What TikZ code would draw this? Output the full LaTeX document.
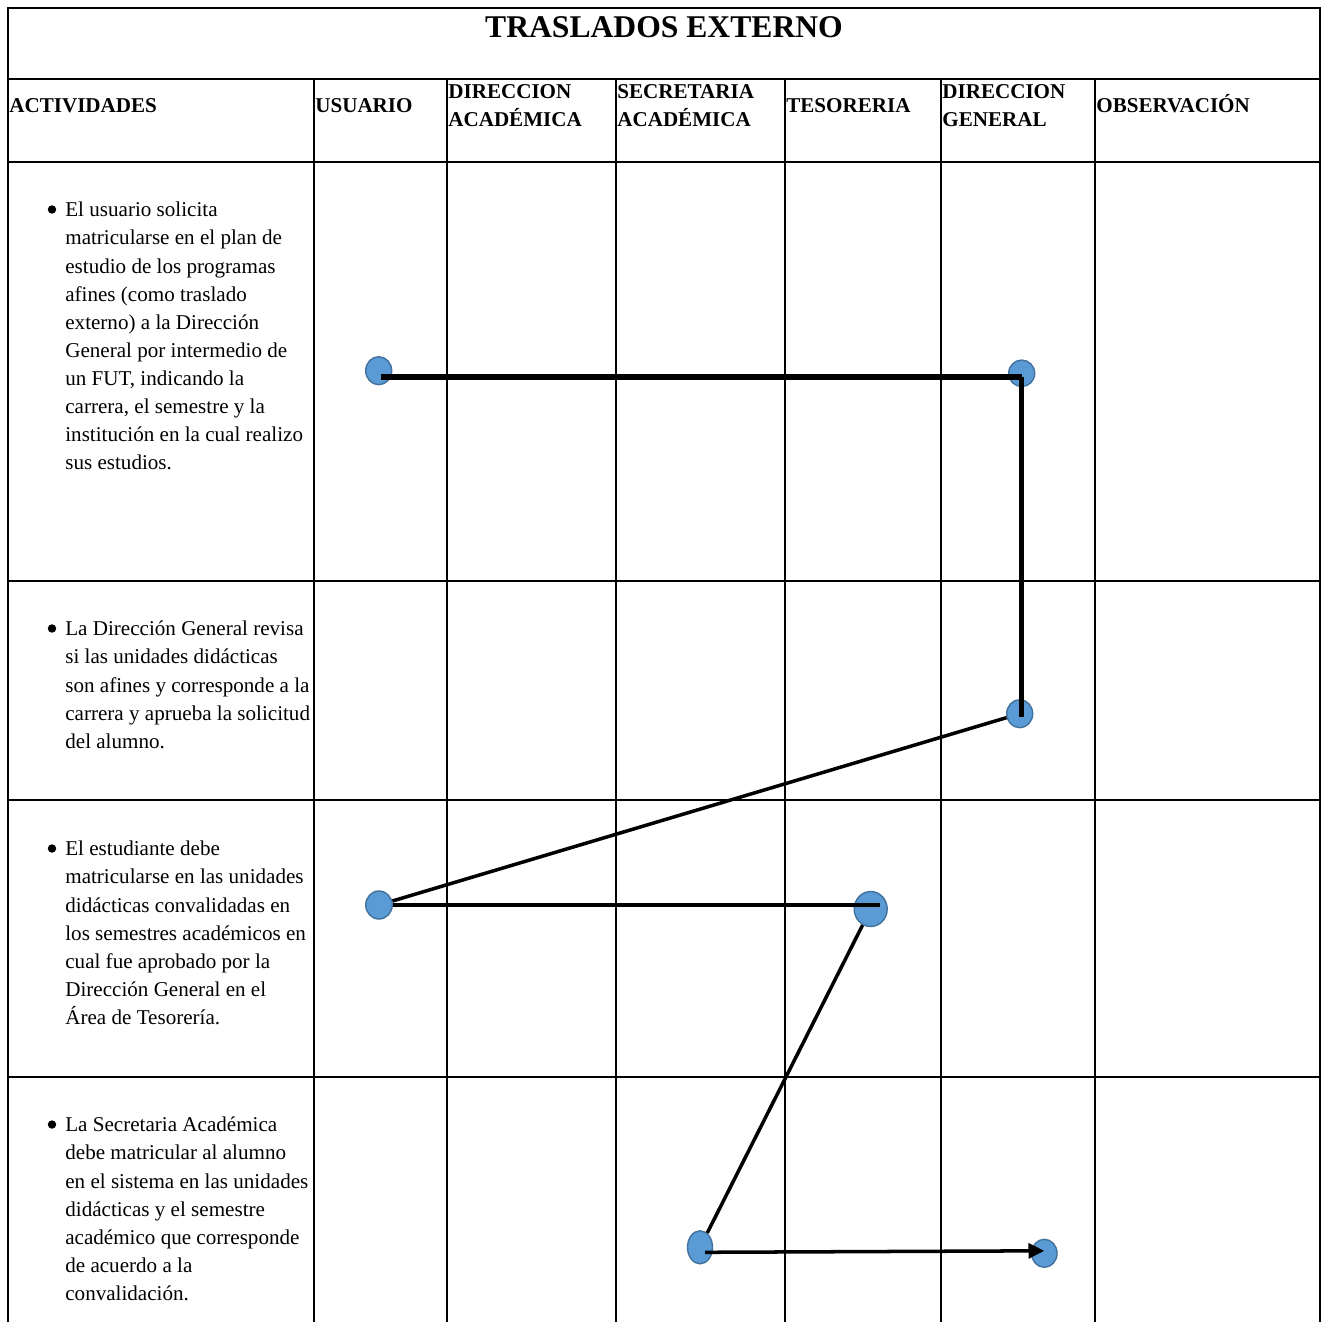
\documentclass[tikz,border=0pt]{standalone}
\usepackage{fontspec}
\setmainfont{Liberation Serif}
\usepackage{tikz}
\usetikzlibrary{shapes.geometric,arrows.meta,calc}

\definecolor{dotfill}{HTML}{5B9BD5}
\definecolor{dotedge}{HTML}{41719C}

\begin{document}
\begin{tikzpicture}[
    x=0.02cm, y=-0.02cm,
    >=Latex,
    grid/.style={line width=1.1pt, line cap=rect},
    headtext/.style={
        anchor=north west, inner sep=0pt, align=left,
        font=\fontsize{12}{16}\selectfont\bfseries
    },
    acttext/.style={
        anchor=north west, inner sep=0pt, align=left,
        font=\fontsize{12}{16}\selectfont
    },
    bul/.style={circle, fill=black, minimum size=4.8pt, inner sep=0pt},
    dot/.style={
        ellipse, draw=dotedge, fill=dotfill, line width=0.8pt,
        inner sep=0pt, minimum width=0.52cm, minimum height=0.56cm
    },
    flow/.style={line width=2pt},
    thickflow/.style={line width=3.2pt},
    arrow/.style={-{Triangle[length=9pt,width=8.5pt]}, line width=2pt},
]
  \useasboundingbox (0,0) rectangle (1326,1322);

  %––– Table frame –––––––––––––––––––––––––––––––––––––––––––
  \draw[grid] (8,1330) -- (8,8) -- (1320,8) -- (1320,1330);
  \foreach \y in {79,162,581,800,1077}
    \draw[grid] (8,\y) -- (1320,\y);
  \foreach \x in {314,447,616,785,941,1095}
    \draw[grid] (\x,79) -- (\x,1330);

  %––– Title and column heads –––––––––––––––––––––––––––––––
  \node (title) [anchor=base, inner sep=0pt, font=\fontsize{18}{22}\selectfont\bfseries]
      at (664,37) {TRASLADOS EXTERNO};

  \node (hact) [headtext] at (9,92.8)    {\strut ACTIVIDADES};
  \node (husu) [headtext] at (315,92.8)  {\strut USUARIO};
  \node (hdac) [headtext] at (448,78.8)  {\strut DIRECCION\\ACADÉMICA};
  \node (hsac) [headtext] at (617,78.8)  {\strut SECRETARIA\\ACADÉMICA};
  \node (htes) [headtext] at (786,92.8)  {\strut TESORERIA};
  \node (hdge) [headtext] at (942,78.8)  {\strut DIRECCION\\GENERAL};
  \node (hobs) [headtext] at (1096,92.8) {\strut OBSERVACIÓN};

  %––– Activities –––––––––––––––––––––––––––––––––––––––––––
  \node (b1) [bul] at (52,209.5) {};
  \node (act1) [acttext] at (65,196.8) {\strut El usuario solicita\\
      matricularse en el plan de\\estudio de los programas\\
      afines (como traslado\\externo) a la Dirección\\
      General por intermedio de\\un FUT, indicando la\\
      carrera, el semestre y la\\institución en la cual realizo\\
      sus estudios.};

  \node (b2) [bul] at (52,628.5) {};
  \node (act2) [acttext] at (65,615.8) {\strut La Dirección General revisa\\
      si las unidades didácticas\\son afines y corresponde a la\\
      carrera y aprueba la solicitud\\del alumno.};

  \node (b3) [bul] at (52,848.5) {};
  \node (act3) [acttext] at (65,835.8) {\strut El estudiante debe\\
      matricularse en las unidades\\didácticas convalidadas en\\
      los semestres académicos en\\cual fue aprobado por la\\
      Dirección General en el\\Área de Tesorería.};

  \node (b4) [bul] at (52,1124.5) {};
  \node (act4) [acttext] at (65,1111.8) {\strut La Secretaria Académica\\
      debe matricular al alumno\\en el sistema en las unidades\\
      didácticas y el semestre\\académico que corresponde\\
      de acuerdo a la\\convalidación.};

  %––– Flow points ––––––––––––––––––––––––––––––––––––––––––
  \node (d1) [dot] at (378.7,370.7) {};
  \node (d2) [dot, minimum height=0.53cm] at (1021.7,373.3) {};
  \node (d3) [dot] at (1019.7,713.7) {};
  \node (d4) [dot, minimum width=0.53cm] at (379,905) {};
  \node (d5) [dot, minimum width=0.66cm, minimum height=0.70cm] at (870.7,909) {};
  \node (d6) [dot, minimum width=0.50cm, minimum height=0.66cm] at (700,1247.3) {};
  \node (d7) [dot, minimum width=0.51cm] at (1044.3,1253.3) {};

  \coordinate (d5in) at (880,905);

  %––– Connectors –––––––––––––––––––––––––––––––––––––––––––
  \draw[thickflow] ([shift={(2,6)}]d1.center) -- ([shift={(0,3.4)}]d2.center);
  \draw[line width=2.6pt] ([shift={(0,3.4)}]d2.center) -- ([shift={(0,3)}]d2.center |- d3.center);
  \draw[flow] (d3) -- (d4);
  \draw[flow] (d4) -- (d5in);
  \draw[flow] (d5) -- (d6);
  \draw[arrow] ([shift={(5,5)}]d6.center) -- ([shift={(0,-2.5)}]d7.center);
\end{tikzpicture}
\end{document}
